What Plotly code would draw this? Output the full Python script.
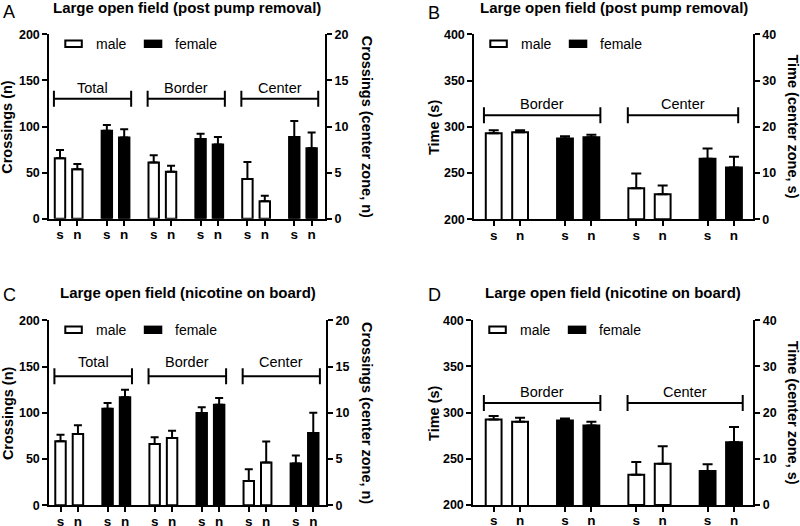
import plotly.graph_objects as go

W, H = 800, 526
FONT = "Liberation Sans, Arial, sans-serif"

# ---------------- data ----------------
treatments = ["s", "n"]
sexes = ["male", "female"]

# Panel A: Large open field (post pump removal) - crossings
a_groups = ["Total", "Border", "Center"]
a_male = [[65.5, 53.5], [61.0, 51.0], [4.3, 1.9]]
a_male_err = [[9.0, 5.8], [7.7, 6.5], [1.85, 0.6]]
a_female = [[95.5, 88.0], [86.4, 80.6], [8.85, 7.65]]
a_female_err = [[6.1, 9.0], [5.8, 8.0], [1.75, 1.7]]

# Panel B: Large open field (post pump removal) - time
b_groups = ["Border", "Center"]
b_male = [[293.1, 294.2], [6.7, 5.4]]
b_male_err = [[3.3, 2.2], [3.2, 1.9]]
b_female = [[287.3, 288.8], [13.1, 11.2]]
b_female_err = [[2.5, 2.5], [2.2, 2.3]]

# Panel C: Large open field (nicotine on board) - crossings
c_groups = ["Total", "Border", "Center"]
c_male = [[69.2, 77.1], [66.3, 72.8], [2.62, 4.62]]
c_male_err = [[7.2, 9.4], [7.2, 7.9], [1.27, 2.28]]
c_female = [[104.5, 116.8], [99.8, 108.8], [4.51, 7.82]]
c_female_err = [[6.1, 8.2], [6.2, 7.2], [0.87, 2.18]]

# Panel D: Large open field (nicotine on board) - time
d_groups = ["Border", "Center"]
d_male = [[292.7, 290.2], [6.55, 8.95]]
d_male_err = [[3.6, 4.3], [2.75, 3.75]]
d_female = [[291.6, 286.2], [7.35, 13.6]]
d_female_err = [[2.2, 4.0], [1.45, 3.3]]

# ---------------- layout spec ----------------
PAIR_STEP = 2.7
BAR_W = 0.6

panels = [
    dict(letter="A", title="Large open field (post pump removal)",
         groups=a_groups, male=a_male, male_err=a_male_err, female=a_female, female_err=a_female_err,
         right_groups=["Center"],
         dx=(49.3, 325.0), dy=(34.3, 218.7), xr=(-0.616, 15.27),
         yr=(0, 200), ydt=50, y2r=(0, 20), y2dt=5,
         ytitle="Crossings (n)", y2title="Crossings (center zone, n)",
         brk_y=130, lab_y=141.5, cap=4,
         brk_ends=[(-0.35, 0.4), (-0.35, 0.4), (-0.35, 0.38)],
         letter_xy=(9, 11.5), title_y=7.5, ytitle_x=7.3, y2title_x=366.7),
    dict(letter="B", title="Large open field (post pump removal)",
         groups=b_groups, male=b_male, male_err=b_male_err, female=b_female, female_err=b_female_err,
         right_groups=["Center"],
         dx=(474.3, 752.7), dy=(34.3, 219.3), xr=(-0.735, 9.81),
         yr=(200, 400), ydt=50, y2r=(0, 40), y2dt=10,
         ytitle="Time (s)", y2title="Time (center zone, s)",
         brk_y=312.5, lab_y=324.5, cap=5,
         brk_ends=[(-0.37, 0.34), (-0.32, 0.16)],
         letter_xy=(434, 12.5), title_y=7.5, ytitle_x=433.3, y2title_x=793.3),
    dict(letter="C", title="Large open field (nicotine on board)",
         groups=c_groups, male=c_male, male_err=c_male_err, female=c_female, female_err=c_female_err,
         right_groups=["Center"],
         dx=(49.3, 326.0), dy=(320.3, 505.3), xr=(-0.643, 15.23),
         yr=(0, 200), ydt=50, y2r=(0, 20), y2dt=5,
         ytitle="Crossings (n)", y2title="Crossings (center zone, n)",
         brk_y=139.5, lab_y=154.5, cap=4,
         brk_ends=[(-0.35, 0.4), (-0.35, 0.4), (-0.35, 0.38)],
         letter_xy=(9, 294.5), title_y=292.0, ytitle_x=7.3, y2title_x=366.7),
    dict(letter="D", title="Large open field (nicotine on board)",
         groups=d_groups, male=d_male, male_err=d_male_err, female=d_female, female_err=d_female_err,
         right_groups=["Center"],
         dx=(473.3, 753.3), dy=(320.3, 505.0), xr=(-0.77, 9.83),
         yr=(200, 400), ydt=50, y2r=(0, 40), y2dt=10,
         ytitle="Time (s)", y2title="Time (center zone, s)",
         brk_y=310.5, lab_y=322.0, cap=5,
         brk_ends=[(-0.37, 0.34), (-0.33, 0.33)],
         letter_xy=(434, 294.5), title_y=292.0, ytitle_x=433.3, y2title_x=793.0),
]


def px_x(p):
    return p / W


def px_y(p):
    return 1 - p / H


fig = go.Figure()
layout = dict(width=W, height=H, margin=dict(l=0, r=0, t=0, b=0, autoexpand=False),
              paper_bgcolor="white", plot_bgcolor="white", showlegend=False,
              barmode="overlay", font=dict(family=FONT, color="black"))
shapes = []
annotations = []

for i, P in enumerate(panels):
    xa = "x" if i == 0 else f"x{i + 1}"
    ya_n = 2 * i + 1
    ya = "y" if ya_n == 1 else f"y{ya_n}"
    ya2 = f"y{ya_n + 1}"
    xkey = "xaxis" if i == 0 else f"xaxis{i + 1}"
    ykey = "yaxis" if ya_n == 1 else f"yaxis{ya_n}"
    y2key = f"yaxis{ya_n + 1}"

    tickvals, ticktext = [], []
    for g, gname in enumerate(P["groups"]):
        side_ax = ya2 if gname in P["right_groups"] else ya
        for s, (vals, errs, fill) in enumerate([(P["male"][g], P["male_err"][g], "white"),
                                                 (P["female"][g], P["female_err"][g], "black")]):
            pair = 2 * g + s
            xs = [pair * PAIR_STEP + k for k in range(len(treatments))]
            tickvals += xs
            ticktext += treatments
            fig.add_trace(go.Bar(
                x=xs, y=vals, xaxis=xa, yaxis=side_ax, width=BAR_W,
                name=sexes[s], hoverinfo="skip",
                marker=dict(color=fill, line=dict(color="black", width=2)),
                error_y=dict(type="data", array=errs, arrayminus=[0] * len(errs),
                             symmetric=False, thickness=2, width=P["cap"], color="black"),
            ))
        # bracket with label
        x_lo = (2 * g) * PAIR_STEP + P["brk_ends"][g][0]
        x_hi = (2 * g + 1) * PAIR_STEP + 1 + P["brk_ends"][g][1]
        span = P["yr"][1] - P["yr"][0]
        hpx = P["dy"][1] - P["dy"][0]
        hh = 8 * span / hpx
        by = P["brk_y"]
        line = dict(color="black", width=2)
        shapes.append(dict(type="line", xref=xa, yref=ya, x0=x_lo, x1=x_hi, y0=by, y1=by, line=line))
        shapes.append(dict(type="line", xref=xa, yref=ya, x0=x_lo, x1=x_lo, y0=by - hh, y1=by + hh, line=line))
        shapes.append(dict(type="line", xref=xa, yref=ya, x0=x_hi, x1=x_hi, y0=by - hh, y1=by + hh, line=line))
        annotations.append(dict(xref=xa, yref=ya, x=(x_lo + x_hi) / 2, y=P["lab_y"], text=gname,
                                showarrow=False, xanchor="center", yanchor="middle",
                                font=dict(size=14.5, family=FONT, color="black")))

    dom_x = [px_x(P["dx"][0]), px_x(P["dx"][1])]
    dom_y = [px_y(P["dy"][1]), px_y(P["dy"][0])]
    axis_common = dict(showline=True, linecolor="black", linewidth=2, showgrid=False, zeroline=False,
                       ticks="outside", ticklen=5, tickwidth=2, tickcolor="black", automargin=False,
                       fixedrange=True)
    layout[xkey] = dict(domain=dom_x, range=list(P["xr"]), anchor=ya, tickmode="array",
                        tickvals=tickvals, ticktext=ticktext, ticklabelstandoff=-3,
                        tickfont=dict(size=13.5, family=FONT, color="black", weight="bold"),
                        **axis_common)
    yv = list(range(P["yr"][0], P["yr"][1] + 1, P["ydt"]))
    layout[ykey] = dict(domain=dom_y, range=list(P["yr"]), anchor=xa, tickmode="array", tickvals=yv,
                        ticktext=[str(v) for v in yv],
                        tickfont=dict(size=12.5, family=FONT, color="black", weight="bold"),
                        **axis_common)
    y2v = list(range(P["y2r"][0], P["y2r"][1] + 1, P["y2dt"]))
    layout[y2key] = dict(overlaying=ya, side="right", anchor=xa, range=list(P["y2r"]), tickmode="array",
                         tickvals=y2v, ticktext=[str(v) for v in y2v],
                         tickfont=dict(size=12.5, family=FONT, color="black", weight="bold"),
                         **axis_common)

    cx = (P["dx"][0] + P["dx"][1]) / 2
    cy = (P["dy"][0] + P["dy"][1]) / 2
    annotations.append(dict(xref="paper", yref="paper", x=px_x(cx), y=px_y(P["title_y"]), text=P["title"],
                            showarrow=False, xanchor="center", yanchor="middle",
                            font=dict(size=15, family=FONT, color="black", weight="bold")))
    annotations.append(dict(xref="paper", yref="paper", x=px_x(P["letter_xy"][0]), y=px_y(P["letter_xy"][1]),
                            text=P["letter"], showarrow=False, xanchor="center", yanchor="middle",
                            font=dict(size=18, family=FONT, color="black")))
    annotations.append(dict(xref="paper", yref="paper", x=px_x(P["ytitle_x"]), y=px_y(cy), text=P["ytitle"],
                            showarrow=False, xanchor="center", yanchor="middle", textangle=-90,
                            font=dict(size=14.5, family=FONT, color="black", weight="bold")))
    annotations.append(dict(xref="paper", yref="paper", x=px_x(P["y2title_x"]), y=px_y(cy), text=P["y2title"],
                            showarrow=False, xanchor="center", yanchor="middle", textangle=90,
                            font=dict(size=14.5, family=FONT, color="black", weight="bold")))

    # legend (manual)
    L = P["dx"][0]
    ly = P["dy"][0] + 9.5
    shapes.append(dict(type="rect", xref="paper", yref="paper",
                       x0=px_x(L + 16), x1=px_x(L + 32.5), y0=px_y(ly + 3.2), y1=px_y(ly - 3.2),
                       fillcolor="white", line=dict(color="black", width=2)))
    annotations.append(dict(xref="paper", yref="paper", x=px_x(L + 45), y=px_y(ly), text=sexes[0],
                            showarrow=False, xanchor="left", yanchor="middle",
                            font=dict(size=14, family=FONT, color="black")))
    shapes.append(dict(type="rect", xref="paper", yref="paper",
                       x0=px_x(L + 94.5), x1=px_x(L + 113), y0=px_y(ly + 4.2), y1=px_y(ly - 4.2),
                       fillcolor="black", line=dict(color="black", width=0)))
    annotations.append(dict(xref="paper", yref="paper", x=px_x(L + 123.5), y=px_y(ly), text=sexes[1],
                            showarrow=False, xanchor="left", yanchor="middle",
                            font=dict(size=14, family=FONT, color="black")))

layout["shapes"] = shapes
layout["annotations"] = annotations
fig.update_layout(**layout)
fig.write_html("out.html",
               config={"displayModeBar": False, "staticPlot": True},
               post_script="document.body.style.margin='0';document.body.style.padding='0';"
                           "document.documentElement.style.overflow='hidden';")
